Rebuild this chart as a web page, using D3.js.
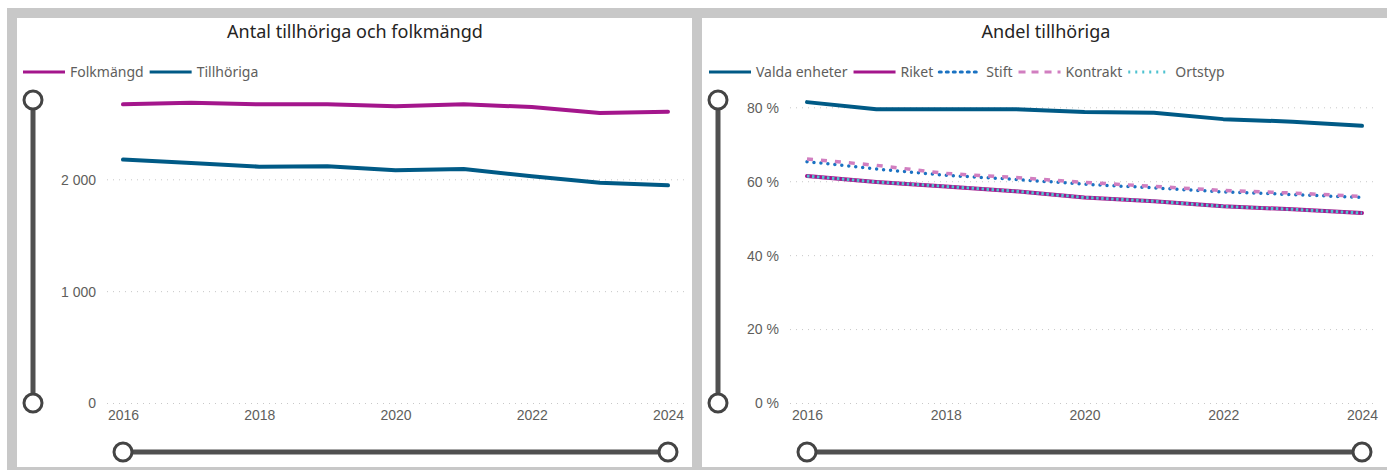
<!DOCTYPE html>
<html>
<head>
<meta charset="utf-8">
<script src="https://cdn.jsdelivr.net/npm/d3@7"></script>
<style>
    body { margin: 0; background: #fff; }
    svg { display: block; font-family: "Segoe UI", "Noto Sans", sans-serif; }
    .tick text { fill: #605e5c; font-size: 14px; }
    .legend text { fill: #605e5c; font-size: 14px; }
    .title { fill: #252423; font-size: 18px; }
</style>
</head>
<body>
<svg id="chart" width="1387" height="470"></svg>
<script>
// data
const years = [2016, 2017, 2018, 2019, 2020, 2021, 2022, 2023, 2024];
const folkmangd = [2670, 2685, 2670, 2670, 2652, 2670, 2646, 2592, 2604];
const tillhoriga = [2176, 2146, 2113, 2116, 2080, 2092, 2027, 1970, 1946];

const valdaEnheter = [81.4, 79.5, 79.5, 79.5, 78.7, 78.5, 76.8, 76.1, 75.0];
const riket = [61.4, 59.8, 58.6, 57.3, 55.6, 54.6, 53.2, 52.4, 51.4];
const stift = [65.3, 63.3, 61.6, 60.5, 59.2, 58.2, 57.1, 56.4, 55.6];
const kontrakt = [66.0, 64.3, 62.1, 61.0, 59.7, 58.6, 57.5, 56.8, 55.9];
const ortstyp = [61.4, 59.8, 58.6, 57.3, 55.6, 54.6, 53.2, 52.4, 51.4];

const leftTicks = [0, 1000, 2000];
const rightTicks = [0, 20, 40, 60, 80];
const xTicks = [2016, 2018, 2020, 2022, 2024];

const svg = d3.select("#chart");

// frame
svg.append("rect").attr("x", 7).attr("y", 8).attr("width", 1380).attr("height", 462).attr("fill", "#c8c8c8");
svg.append("rect").attr("x", 17).attr("y", 18).attr("width", 675).attr("height", 449).attr("fill", "#fff");
svg.append("rect").attr("x", 702).attr("y", 18).attr("width", 685).attr("height", 449).attr("fill", "#fff");

const fmtThousands = d => d3.format(",")(d).replace(/,/g, "\u00a0");

function drawPanel(opts) {
    const g = svg.append("g");

    const x = d3.scaleLinear().domain([2016, 2024]).range(opts.xRange);
    const y = d3.scaleLinear().domain(opts.yDomain).range([403, opts.yTop]);

    g.append("text")
        .attr("class", "title")
        .attr("x", opts.titleX)
        .attr("y", 38)
        .attr("text-anchor", "middle")
        .text(opts.title);

    // gridlines
    g.append("g")
        .selectAll("line")
        .data(opts.yTicks)
        .join("line")
        .attr("x1", opts.gridX[0])
        .attr("x2", opts.gridX[1])
        .attr("y1", d => y(d) + 0.5)
        .attr("y2", d => y(d) + 0.5)
        .attr("stroke", "#c8c8c8")
        .attr("stroke-dasharray", "1 5");

    const yAxis = g.append("g")
        .attr("transform", "translate(" + opts.yLabelX + ",0)")
        .call(d3.axisLeft(y).tickValues(opts.yTicks).tickSize(0).tickPadding(0).tickFormat(opts.yFormat));
    yAxis.select(".domain").remove();
    yAxis.selectAll("text").attr("dy", "0.35em");

    const xAxis = g.append("g")
        .attr("transform", "translate(0,410)")
        .call(d3.axisBottom(x).tickValues(xTicks).tickSize(0).tickPadding(0).tickFormat(d3.format("d")));
    xAxis.select(".domain").remove();
    xAxis.selectAll("text").attr("dy", "0.71em");

    const line = d3.line()
        .x((d, i) => x(years[i]))
        .y(d => y(d));

    opts.series.forEach(s => {
        g.append("path")
            .datum(s.values)
            .attr("fill", "none")
            .attr("stroke", s.color)
            .attr("stroke-width", s.width)
            .attr("stroke-linecap", s.cap || "round")
            .attr("stroke-linejoin", "round")
            .attr("stroke-dasharray", s.dash || null)
            .attr("d", line);
    });

    // legend
    const legend = g.append("g").attr("class", "legend");
    let lx = opts.legendX;
    opts.series.forEach(s => {
        legend.append("line")
            .attr("x1", lx).attr("x2", lx + 42)
            .attr("y1", 72).attr("y2", 72)
            .attr("stroke", s.color)
            .attr("stroke-width", 3)
            .attr("stroke-linecap", s.cap || "butt")
            .attr("stroke-dasharray", s.legendDash || null);
        const t = legend.append("text")
            .attr("x", lx + 47)
            .attr("y", 72)
            .attr("dy", "0.35em")
            .text(s.name);
        lx += 47 + t.node().getComputedTextLength() + 6;
    });

    // slicers
    const sl = g.append("g");
    sl.append("line")
        .attr("x1", opts.vSliderX).attr("x2", opts.vSliderX)
        .attr("y1", 100).attr("y2", 403)
        .attr("stroke", "#505050").attr("stroke-width", 5);
    sl.append("line")
        .attr("x1", opts.xRange[0]).attr("x2", opts.xRange[1])
        .attr("y1", 452).attr("y2", 452)
        .attr("stroke", "#505050").attr("stroke-width", 5);
    [[opts.vSliderX, 100], [opts.vSliderX, 403], [opts.xRange[0], 452], [opts.xRange[1], 452]].forEach(p => {
        sl.append("circle")
            .attr("cx", p[0]).attr("cy", p[1]).attr("r", 9)
            .attr("fill", "#fff")
            .attr("stroke", "#444").attr("stroke-width", 3);
    });
}

drawPanel({
    title: "Antal tillhöriga och folkmängd",
    titleX: 355,
    xRange: [123, 668],
    yDomain: [0, 2000],
    yTop: 179.3,
    yTicks: leftTicks,
    yFormat: fmtThousands,
    yLabelX: 96,
    gridX: [107, 684],
    legendX: 23,
    vSliderX: 33,
    series: [
        {name: "Folkmängd", values: folkmangd, color: "#a4168c", width: 4},
        {name: "Tillhöriga", values: tillhoriga, color: "#005a86", width: 4}
    ]
});

drawPanel({
    title: "Andel tillhöriga",
    titleX: 1046,
    xRange: [807, 1362],
    yDomain: [0, 80],
    yTop: 107.3,
    yTicks: rightTicks,
    yFormat: d => d + " %",
    yLabelX: 779,
    gridX: [790, 1378],
    legendX: 709,
    vSliderX: 718,
    series: [
        {name: "Valda enheter", values: valdaEnheter, color: "#005a86", width: 4},
        {name: "Riket", values: riket, color: "#a4168c", width: 4},
        {name: "Stift", values: stift, color: "#1a72c2", width: 3.5, dash: "0 7", legendDash: "2 5", cap: "round"},
        {name: "Kontrakt", values: kontrakt, color: "#d17ec0", width: 3.5, dash: "6 8", legendDash: "7 6", cap: "butt"},
        {name: "Ortstyp", values: ortstyp, color: "#4ec2d0", width: 3, dash: "2.5 2.5", legendDash: "2 5", cap: "butt"}
    ]
});
</script>
</body>
</html>
